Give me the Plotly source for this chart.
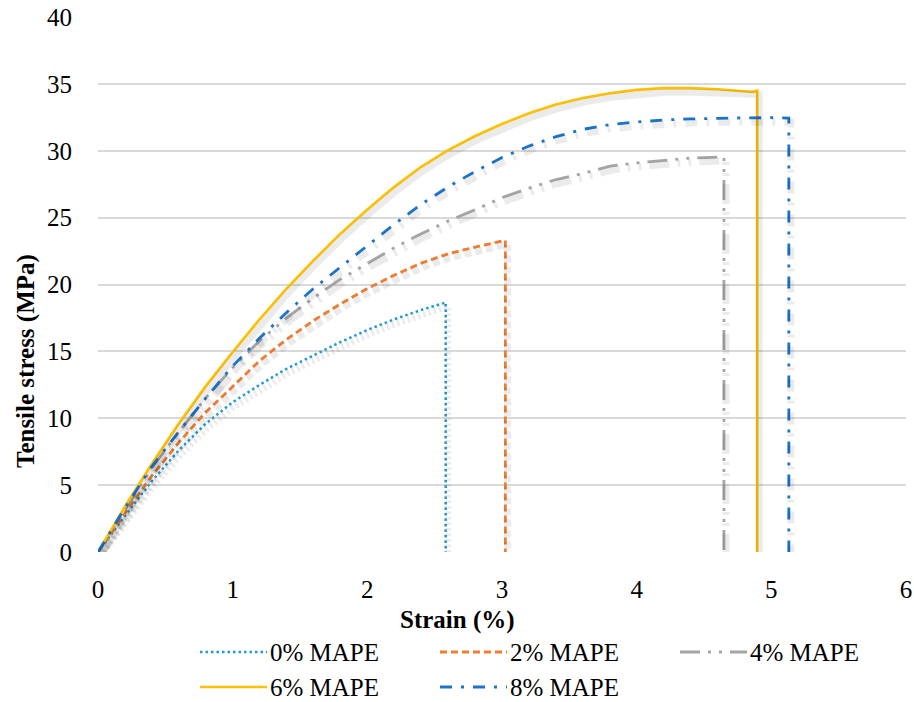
import plotly.graph_objects as go

# ---------------- data ----------------
series_names = ["0% MAPE", "2% MAPE", "4% MAPE", "6% MAPE", "8% MAPE"]

strain_0 = [0, 0.2, 0.4, 0.6, 0.8, 1.0, 1.2, 1.4, 1.6, 1.8, 2.0, 2.2, 2.4, 2.582, 2.582]
stress_0 = [0, 2.7, 5.3, 7.6, 9.6, 11.2, 12.5, 13.7, 14.7, 15.7, 16.6, 17.4, 18.1, 18.66, 0]

strain_2 = [0, 0.2, 0.4, 0.6, 0.8, 1.0, 1.2, 1.4, 1.6, 1.8, 2.0, 2.2, 2.4, 2.6, 2.8, 3.025, 3.025]
stress_2 = [0, 2.9, 5.7, 8.2, 10.45, 12.4, 14.3, 15.9, 17.3, 18.55, 19.7, 20.7, 21.6, 22.3, 22.8, 23.3, 0]

strain_4 = [0, 0.2, 0.4, 0.6, 0.8, 1.0, 1.2, 1.4, 1.6, 1.8, 2.0, 2.2, 2.4, 2.6, 2.8, 3.0,
            3.2, 3.4, 3.6, 3.8, 4.0, 4.2, 4.4, 4.648, 4.648]
stress_4 = [0, 3.2, 6.3, 9.0, 11.5, 13.8, 15.8, 17.5, 19.0, 20.4, 21.6, 22.75, 23.8, 24.75, 25.6, 26.5,
            27.2, 27.85, 28.3, 28.85, 29.1, 29.3, 29.45, 29.55, 0]

strain_6 = [0, 0.2, 0.4, 0.6, 0.8, 1.0, 1.2, 1.4, 1.6, 1.8, 2.0, 2.2, 2.4, 2.6, 2.8, 3.0,
            3.2, 3.4, 3.6, 3.8, 4.0, 4.2, 4.4, 4.6, 4.8, 4.86, 4.895, 4.895]
stress_6 = [0, 3.4, 6.6, 9.6, 12.4, 14.95, 17.4, 19.7, 21.8, 23.8, 25.6, 27.3, 28.8, 30.05, 31.1, 32.0,
            32.8, 33.45, 33.95, 34.3, 34.55, 34.68, 34.68, 34.6, 34.45, 34.4, 34.5, 0]

strain_8 = [0, 0.2, 0.4, 0.6, 0.8, 1.0, 1.2, 1.4, 1.6, 1.8, 2.0, 2.2, 2.4, 2.6, 2.8, 3.0,
            3.2, 3.4, 3.6, 3.8, 4.0, 4.2, 4.4, 4.6, 4.8, 5.0, 5.13, 5.13]
stress_8 = [0, 3.3, 6.4, 9.0, 11.5, 13.9, 16.0, 17.9, 19.7, 21.3, 22.9, 24.5, 26.0, 27.3, 28.45, 29.5,
            30.35, 31.05, 31.6, 31.95, 32.15, 32.3, 32.38, 32.43, 32.46, 32.47, 32.44, 0]

x_ticks = [0, 1, 2, 3, 4, 5, 6]
y_ticks = [0, 5, 10, 15, 20, 25, 30, 35, 40]

# ---------------- styles ----------------
colors = ["#1F9AD6", "#ED7D31", "#A5A5A5", "#FFC000", "#1B73CA"]
dashes = ["2.5px,3px", "7px,4px", "20px,8px,3px,8px,3px,8px", "solid", "12px,9px,3px,9px"]
widths = [2.5, 2.8, 2.8, 2.6, 2.8]

xs = [strain_0, strain_2, strain_4, strain_6, strain_8]
ys = [stress_0, stress_2, stress_4, stress_6, stress_8]

FONT = "Liberation Serif"
W, H = 914, 702
ML, MR, MT, MB = 98, 8, 17, 150
PW, PH = W - ML - MR, H - MT - MB
X_RANGE = [0, 6]
Y_RANGE = [0, 40]

# shadow offset in pixels (right, down)
SDX, SDY = 2, 4
sdx_u = SDX * (X_RANGE[1] - X_RANGE[0]) / PW
sdy_u = SDY * (Y_RANGE[1] - Y_RANGE[0]) / PH


def px_to_paper(px, py):
    return (px - ML) / PW, (H - MB - py) / PH


fig = go.Figure()
# soft shadows (same data, drawn on a slightly shifted hidden axis pair)
for x, y, d in zip(xs, ys, dashes):
    fig.add_trace(go.Scatter(x=x, y=y, mode="lines", xaxis="x2", yaxis="y2",
                             line=dict(color="rgba(0,0,0,0.08)", dash=d, width=7),
                             showlegend=False, hoverinfo="skip"))
for name, x, y, c, d, w in zip(series_names, xs, ys, colors, dashes, widths):
    fig.add_trace(go.Scatter(x=x, y=y, mode="lines", name=name,
                             line=dict(color=c, dash=d, width=w), showlegend=False))

# manual legend (samples + labels)
shapes = []
annotations = []
row_y = [652, 687]
for i, (name, c, d, w) in enumerate(zip(series_names, colors, dashes, widths)):
    row, col = divmod(i, 3)
    sx0 = 200 + 240 * col
    sx1 = 267 + 240 * col
    sy = row_y[row]
    x0, yy = px_to_paper(sx0, sy)
    x1, _ = px_to_paper(sx1, sy)
    shapes.append(dict(type="line", xref="paper", yref="paper", x0=x0, x1=x1, y0=yy, y1=yy,
                       line=dict(color=c, dash=d, width=w)))
    tx, _ = px_to_paper(sx1 + 2, sy)
    annotations.append(dict(xref="paper", yref="paper", x=tx, y=yy, text=name, showarrow=False,
                            xanchor="left", yanchor="middle", borderpad=0,
                            font=dict(family=FONT, size=25, color="#000000")))

ax, ay = px_to_paper(457, 620)
annotations.append(dict(xref="paper", yref="paper", x=ax, y=ay, text="<b>Strain (%)</b>",
                        showarrow=False, xanchor="center", yanchor="middle",
                        font=dict(family=FONT, size=25, color="#000000")))
bx, by = px_to_paper(26, 361)
annotations.append(dict(xref="paper", yref="paper", x=bx, y=by, text="<b>Tensile stress (MPa)</b>",
                        showarrow=False, xanchor="center", yanchor="middle", textangle=-90,
                        font=dict(family=FONT, size=25, color="#000000")))

fig.update_layout(
    width=W, height=H,
    margin=dict(l=ML, r=MR, t=MT, b=MB, pad=0),
    paper_bgcolor="white", plot_bgcolor="white",
    font=dict(family=FONT, size=25, color="#000000"),
    xaxis=dict(range=X_RANGE, tickvals=x_ticks, ticktext=[str(v) for v in x_ticks],
               showgrid=False, zeroline=False, showline=False, ticks="", automargin=False,
               ticklabelstandoff=20, tickfont=dict(family=FONT, size=25)),
    yaxis=dict(range=Y_RANGE, tickvals=y_ticks, ticktext=[str(v) for v in y_ticks],
               showgrid=True, gridcolor="#D9D9D9", gridwidth=1.5, zeroline=False,
               showline=False, ticks="", ticklabelstandoff=25, automargin=False,
               tickfont=dict(family=FONT, size=25)),
    xaxis2=dict(range=[X_RANGE[0] - sdx_u, X_RANGE[1] - sdx_u], visible=False,
                overlaying="x", anchor="y2", automargin=False),
    yaxis2=dict(range=[Y_RANGE[0] + sdy_u, Y_RANGE[1] + sdy_u], visible=False,
                overlaying="y", anchor="x2", automargin=False),
    shapes=shapes,
    annotations=annotations,
)

fig.write_html("out.html")
